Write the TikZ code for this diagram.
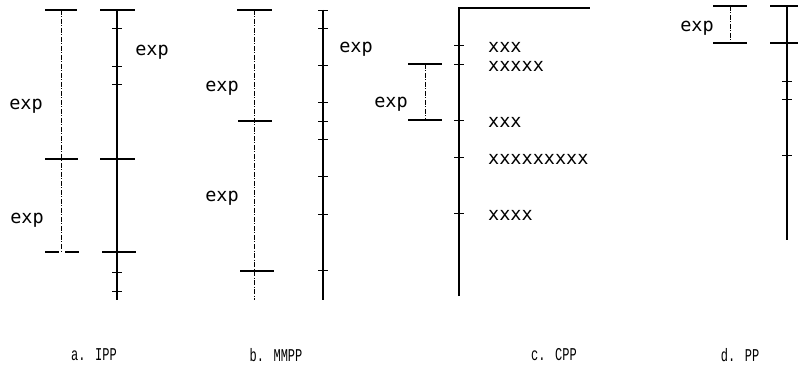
\documentclass[tikz,border=0pt]{standalone}
\usepackage{fontspec}
\usepackage{graphicx}
\newfontfamily\expfont{DejaVu Sans Mono}
\newfontfamily\capfont{Liberation Mono}
\begin{document}
\begin{tikzpicture}[x=1pt,y=-1pt,
  dd/.style={line width=0.6pt,dash pattern=on 5pt off 1.5pt on 1pt off 1.5pt},
  solidline/.style={line width=1.1pt},
  bar/.style={line width=1.8pt},
  tickmark/.style={line width=0.8pt},
  lbl/.style={font=\expfont\fontsize{18.5}{20}\selectfont,inner sep=0pt},
  captxt/.style={font=\capfont\fontsize{12}{14}\selectfont,inner sep=0pt}]
\useasboundingbox (0,0) rectangle (798,366);
% ---------- a. IPP ----------
\coordinate (aLt) at (61,10); \coordinate (aLb) at (61,252);
\draw[dd] (aLt) -- (aLb);
\draw[bar] (45,10) -- (77,10);
\draw[bar] (45,159) -- (78,159);
\draw[bar,dash pattern=on 14pt off 6pt] (45,252) -- (79,252);
\coordinate (aRt) at (117,10); \coordinate (aRb) at (117,300);
\draw[solidline] (aRt) -- (aRb);
\draw[bar] (100,10) -- (135,10);
\foreach \y in {28,66,84,272,291} \draw[tickmark] (112,\y) -- (122,\y);
\draw[bar] (100,159) -- (135,159);
\draw[bar] (102,252) -- (136,252);
\node[lbl] (a1) at (26,106) {exp};
\node[lbl] (a2) at (27,220) {exp};
\node[lbl] (a3) at (152,52) {exp};
% ---------- b. MMPP ----------
\coordinate (bLt) at (254,10); \coordinate (bLb) at (254,300);
\draw[dd] (bLt) -- (bLb);
\draw[bar] (237,10) -- (272,10);
\draw[bar] (238,121) -- (272,121);
\draw[bar] (240,271) -- (274,271);
\coordinate (bRt) at (323,10); \coordinate (bRb) at (323,300);
\draw[solidline] (bRt) -- (bRb);
\foreach \y in {10,28,65,102,121,139,176,214,270} \draw[tickmark] (318,\y) -- (328,\y);
\node[lbl] (b1) at (222,88) {exp};
\node[lbl] (b2) at (222,198) {exp};
\node[lbl] (b3) at (356,49) {exp};
% ---------- c. CPP ----------
\coordinate (cT) at (459,8); \coordinate (cB) at (459,296);
\coordinate (cE) at (590,8);
\draw[solidline] (cB) -- (cT) -- (cE);
\foreach \y in {45,64,120,157,213} \draw[tickmark] (454,\y) -- (464,\y);
\node[lbl,anchor=west] (c1) at (488,47) {xxx};
\node[lbl,anchor=west] (c2) at (488,66) {xxxxx};
\node[lbl,anchor=west] (c3) at (488,122) {xxx};
\node[lbl,anchor=west] (c4) at (488,159) {xxxxxxxxx};
\node[lbl,anchor=west] (c5) at (488,215) {xxxx};
\coordinate (cIt) at (425,64); \coordinate (cIb) at (425,120);
\draw[bar] (408,64) -- (442,64);
\draw[bar] (408,120) -- (442,120);
\draw[dd] (cIt) -- (cIb);
\node[lbl] (c6) at (391,104) {exp};
% ---------- d. PP ----------
\coordinate (dIt) at (730,6); \coordinate (dIb) at (730,43);
\draw[bar] (713,6) -- (747,6);
\draw[bar] (713,43) -- (747,43);
\draw[dd] (dIt) -- (dIb);
\node[lbl] (d1) at (697,28) {exp};
\coordinate (dT) at (787,6); \coordinate (dB) at (787,240);
\draw[solidline] (dT) -- (dB);
\draw[bar] (770,6) -- (798,6);
\draw[bar] (770,43) -- (798,43);
\foreach \y in {81,99,155} \draw[tickmark] (782,\y) -- (792,\y);
% ---------- captions ----------
\node[captxt] (ca) at (94,355) {\scalebox{1}[1.5]{a. IPP}};
\node[captxt] (cb) at (276,355) {\scalebox{1}[1.5]{b. MMPP}};
\node[captxt] (cc) at (554,355) {\scalebox{1}[1.5]{c. CPP}};
\node[captxt] (cd) at (740,355) {\scalebox{1}[1.5]{d. PP}};
\end{tikzpicture}
\end{document}
